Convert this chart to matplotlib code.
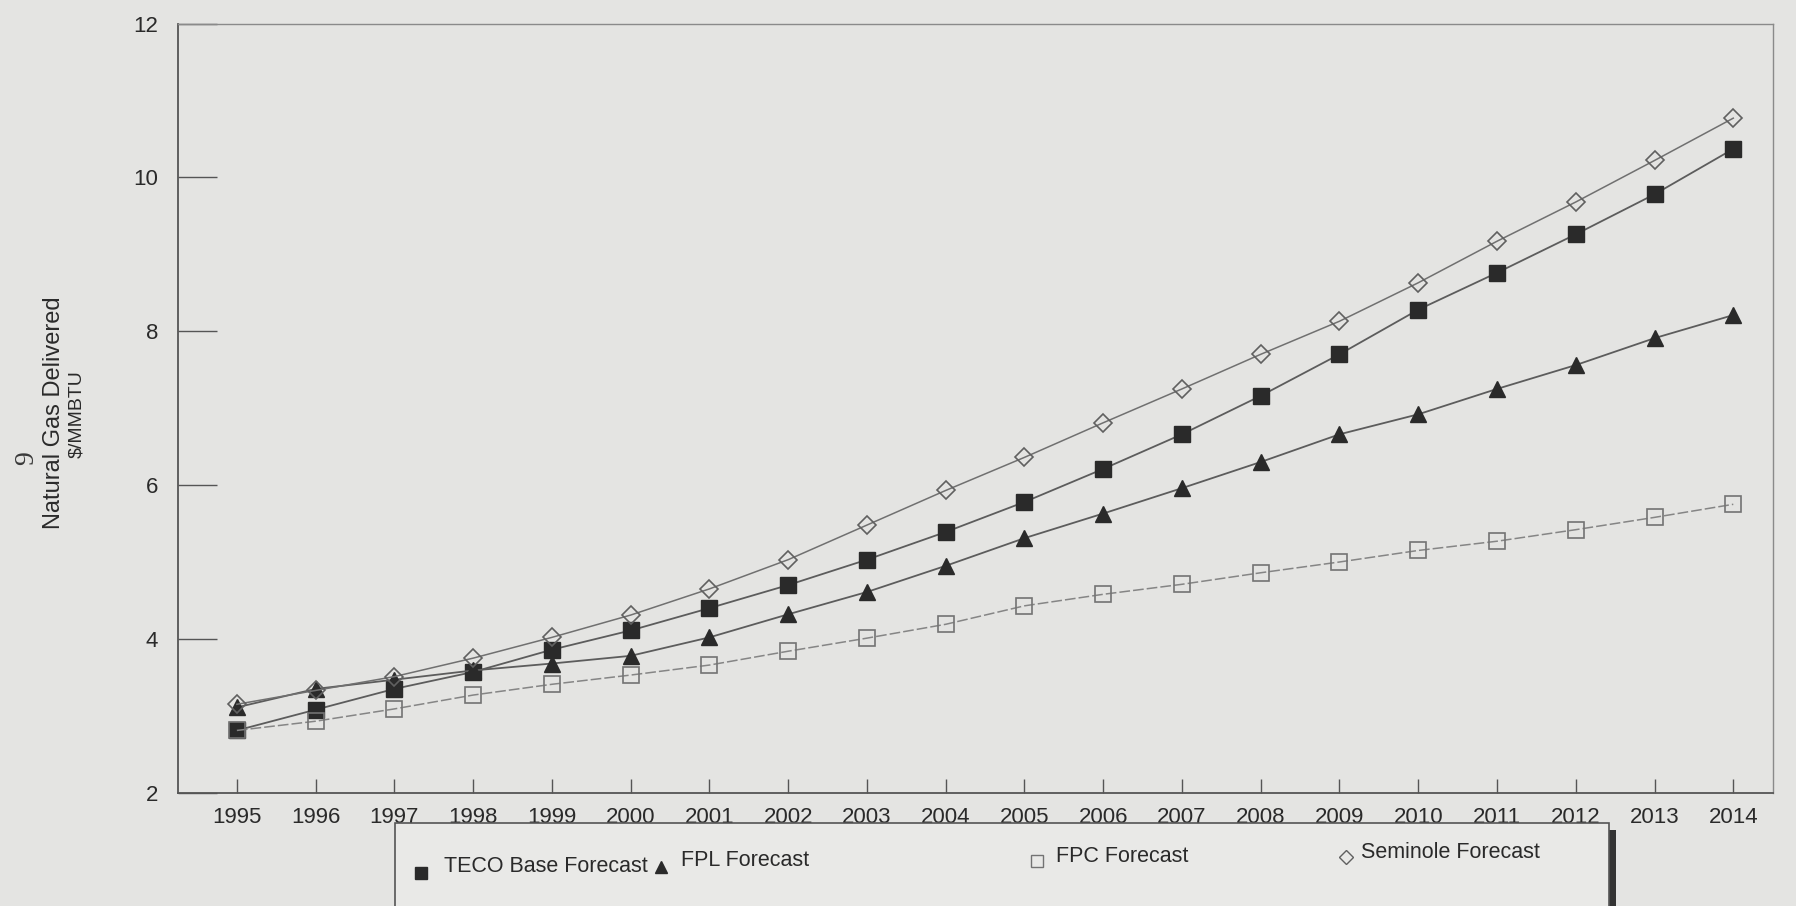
import matplotlib
matplotlib.use("Agg")
import matplotlib.pyplot as plt
from matplotlib.patches import Rectangle

# Delivered natural gas price forecasts, $/MMBTU
years = list(range(1995, 2015))
teco = [2.81, 3.08, 3.35, 3.57, 3.86, 4.11, 4.40, 4.70, 5.03, 5.39,
        5.78, 6.21, 6.66, 7.16, 7.70, 8.28, 8.76, 9.26, 9.78, 10.37]
fpl = [3.11, 3.35, 3.47, 3.59, 3.68, 3.78, 4.02, 4.32, 4.61, 4.95,
       5.31, 5.63, 5.96, 6.30, 6.66, 6.92, 7.25, 7.56, 7.91, 8.21]
fpc = [2.81, 2.93, 3.09, 3.27, 3.41, 3.53, 3.66, 3.84, 4.01, 4.19,
       4.43, 4.58, 4.71, 4.86, 5.00, 5.15, 5.27, 5.42, 5.58, 5.75]
seminole = [3.15, 3.33, 3.51, 3.75, 4.02, 4.31, 4.65, 5.03, 5.48, 5.93,
            6.36, 6.81, 7.25, 7.70, 8.13, 8.63, 9.17, 9.68, 10.22, 10.77]
series_names = ["TECO Base Forecast", "FPL Forecast", "FPC Forecast", "Seminole Forecast"]
y_ticks = [2, 4, 6, 8, 10, 12]

BG = "#e4e4e2"
INK = "#2a2a2a"
LINE = "#5c5c5c"

plt.rcParams["font.family"] = ["Liberation Sans", "DejaVu Sans"]

fig = plt.figure(figsize=(17.96, 9.06), dpi=100, facecolor=BG)
ax = fig.add_axes([0.099, 0.125, 0.888, 0.849], facecolor=BG)

styles = [
    dict(marker="s", ms=11, mfc=INK, mec=INK, color=LINE, lw=1.3, ls="-"),
    dict(marker="^", ms=11, mfc=INK, mec=INK, color=LINE, lw=1.3, ls="-"),
    dict(marker="s", ms=11, mfc="none", mec="#737373", mew=1.2, color="#858585", lw=1.1, ls=(0, (7, 2))),
    dict(marker="D", ms=9, mfc="none", mec="#606060", mew=1.2, color="#707070", lw=1.1, ls="-"),
]
# draw FPC first so the TECO square sits on top at 1995
order = [2, 3, 1, 0]
values = [teco, fpl, fpc, seminole]
for i in order:
    ax.plot(years, values[i], label=series_names[i], zorder=3 + i, **styles[i])

ax.set_xlim(1994.25, 2014.5)
ax.set_ylim(2, 12)
ax.set_xticks(years)
ax.set_yticks(y_ticks)
ax.tick_params(axis="x", direction="in", length=10, width=1, color="#555555",
               labelsize=16, pad=10, labelcolor=INK)
ax.tick_params(axis="y", direction="in", length=28, width=1, color="#555555",
               labelsize=16, pad=14, labelcolor=INK)
for side in ["left", "bottom"]:
    ax.spines[side].set_color("#555555")
    ax.spines[side].set_linewidth(1.3)
for side in ["top", "right"]:
    ax.spines[side].set_color("#8a8a8a")
    ax.spines[side].set_linewidth(1.0)

# axis title on the left
fig.text(0.030, 0.545, "Natural Gas Delivered", rotation=90, ha="center", va="center",
         fontsize=17, color=INK)
fig.text(0.043, 0.543, "$/MMBTU", rotation=90, ha="center", va="center",
         fontsize=14, color=INK)
fig.text(0.015, 0.494, "9", rotation=90, ha="center", va="center",
         fontsize=20, color="#3a3a3a", family=["Liberation Serif", "DejaVu Serif"])

# legend box with drop shadow
leg = fig.add_axes([0, 0, 1, 1], facecolor="none")
leg.set_xlim(0, 1796)
leg.set_ylim(906, 0)
leg.axis("off")
leg.add_patch(Rectangle((402, 830), 1214, 86, facecolor="#333333", edgecolor="none", zorder=1))
leg.add_patch(Rectangle((395, 823), 1214, 86, facecolor="#e9e9e7", edgecolor="#555555", lw=1.2, zorder=2))

marker_x = [421, 661, 1037, 1346]
marker_y = [873, 867, 861, 857]
text_x = [444, 681, 1056, 1361]
text_y = [867, 861, 857, 853]
for i, name in enumerate(series_names):
    st = styles[i]
    leg.plot([marker_x[i]], [marker_y[i]], marker=st["marker"], ms=st["ms"] * 0.8,
             mfc=st["mfc"], mec=st["mec"], ls="none", zorder=3)
    leg.text(text_x[i], text_y[i], name, ha="left", va="center",
             fontsize=15.5, color=INK, zorder=3)

fig.savefig("out.png", dpi=100, facecolor=BG)
